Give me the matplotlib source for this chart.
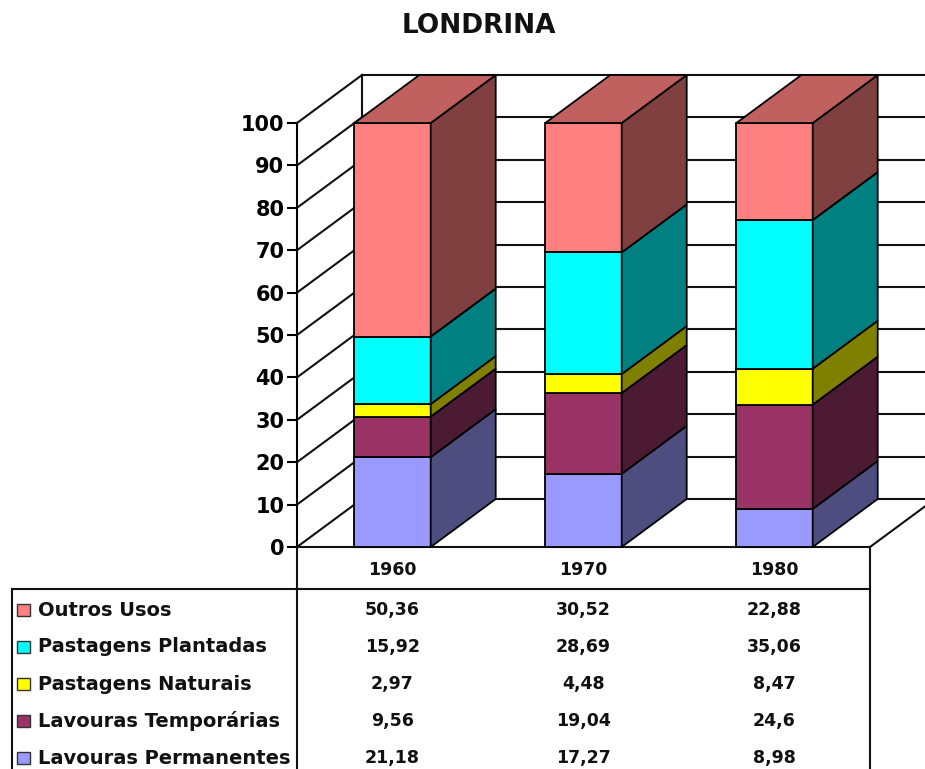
import matplotlib
matplotlib.use("Agg")
import matplotlib.pyplot as plt
from matplotlib.patches import Polygon, Rectangle
from matplotlib.transforms import blended_transform_factory

# ---- data ----
years = ["1960", "1970", "1980"]
outros_usos = [50.36, 30.52, 22.88]
pastagens_plantadas = [15.92, 28.69, 35.06]
pastagens_naturais = [2.97, 4.48, 8.47]
lavouras_temporarias = [9.56, 19.04, 24.6]
lavouras_permanentes = [21.18, 17.27, 8.98]

# stacking order bottom -> top
stack_names = ["Lavouras Permanentes", "Lavouras Temporárias", "Pastagens Naturais",
               "Pastagens Plantadas", "Outros Usos"]
stack_values = [lavouras_permanentes, lavouras_temporarias, pastagens_naturais,
                pastagens_plantadas, outros_usos]
front_colors = ["#9999FF", "#993366", "#FFFF00", "#00FFFF", "#FF8080"]
side_colors = ["#4D4D80", "#4D1A33", "#808000", "#008080", "#804040"]
top_color = "#C0605F"

# table order (top -> bottom)
table_names = ["Outros Usos", "Pastagens Plantadas", "Pastagens Naturais",
               "Lavouras Temporárias", "Lavouras Permanentes"]
table_values = [outros_usos, pastagens_plantadas, pastagens_naturais,
                lavouras_temporarias, lavouras_permanentes]
table_colors = ["#FF8080", "#00FFFF", "#FFFF00", "#993366", "#9999FF"]

yticks = list(range(0, 101, 10))

W, H = 925, 769
fig = plt.figure(figsize=(W / 100, H / 100), dpi=100)
plt.rcParams["font.family"] = ["DejaVu Sans"]

# main plot axes: front floor edge x 297..870, y(0)=547, y(100)=123
ax = fig.add_axes([297 / W, (H - 547) / H, 573 / W, 424 / H])
ax.set_xlim(-0.5, 2.5)
ax.set_ylim(0, 100)
ax.patch.set_alpha(0)
for s in ["top", "right", "bottom"]:
    ax.spines[s].set_visible(False)
ax.spines["left"].set_linewidth(1.5)
ax.spines["left"].set_zorder(1)
ax.set_xticks([])
ax.set_yticks(yticks)
ax.set_yticklabels([str(t) for t in yticks], fontsize=15, fontweight="bold")
ax.tick_params(axis="y", length=7, width=1.5, pad=2)

DX = 65 / 191.0   # depth offset (x data units)
DY = 48 / 4.24    # depth offset (y data units)
lc = "#111111"
lw = 1.5

# back wall
xl, xr = -0.5, 2.5
ax.plot([xl + DX, xl + DX], [DY, 100 + DY], color=lc, lw=lw, clip_on=False, zorder=1)
for t in yticks:
    ax.plot([xl + DX, xr + DX + 1], [t + DY, t + DY], color=lc, lw=lw, clip_on=False, zorder=1)
    # left wall diagonals
    ax.plot([xl, xl + DX], [t, t + DY], color=lc, lw=lw, clip_on=False, zorder=1)
# floor
ax.plot([xl, xr], [0, 0], color=lc, lw=lw, clip_on=False, zorder=1)
ax.plot([xr, xr + DX], [0, DY], color=lc, lw=lw, clip_on=False, zorder=1)

# bars
bw = 0.4
for i in range(len(years)):
    x0 = i - bw / 2
    bottom = 0.0
    for j, vals in enumerate(stack_values):
        h = vals[i]
        ax.add_patch(Rectangle((x0, bottom), bw, h, facecolor=front_colors[j],
                               edgecolor="black", lw=1.3, clip_on=False, zorder=3))
        ax.add_patch(Polygon([(x0 + bw, bottom), (x0 + bw + DX, bottom + DY),
                              (x0 + bw + DX, bottom + h + DY), (x0 + bw, bottom + h)],
                             closed=True, facecolor=side_colors[j], edgecolor="black",
                             lw=1.3, clip_on=False, zorder=3))
        bottom += h
    ax.add_patch(Polygon([(x0, bottom), (x0 + DX, bottom + DY),
                          (x0 + bw + DX, bottom + DY), (x0 + bw, bottom)],
                         closed=True, facecolor=top_color, edgecolor="black",
                         lw=1.3, clip_on=False, zorder=3))

# title
fig.text(479 / W, 1 - 26 / H, "LONDRINA", ha="center", va="center",
         fontsize=19, fontweight="bold", color="#111111")

# table (pixel overlay axes)
tab = fig.add_axes([0, 0, 1, 1])
tab.set_xlim(0, W)
tab.set_ylim(H, 0)
tab.axis("off")
tab.patch.set_alpha(0)
bt = blended_transform_factory(ax.transData, tab.transData)

tab.plot([297, 297], [547, H], color=lc, lw=lw)
tab.plot([870, 870], [547, H], color=lc, lw=lw)
tab.plot([12, 870], [589, 589], color=lc, lw=lw)
tab.plot([12, 12], [589, H], color=lc, lw=lw)

for i, y in enumerate(years):
    tab.text(i, 570, y, transform=bt, ha="center", va="center",
             fontsize=12.5, fontweight="bold", color="#111111")

row_y = [610, 647, 684, 721, 758]
for r, (name, vals, col) in enumerate(zip(table_names, table_values, table_colors)):
    yy = row_y[r]
    tab.add_patch(Rectangle((17, yy - 6), 13, 12, facecolor=col, edgecolor="#333333", lw=1))
    tab.text(38, yy, name, ha="left", va="center", fontsize=14,
             fontweight="bold", color="#111111")
    for i, v in enumerate(vals):
        tab.text(i, yy, f"{v:g}".replace(".", ","), transform=bt, ha="center",
                 va="center", fontsize=12.5, fontweight="bold", color="#111111")

fig.savefig("out.png", dpi=100)
